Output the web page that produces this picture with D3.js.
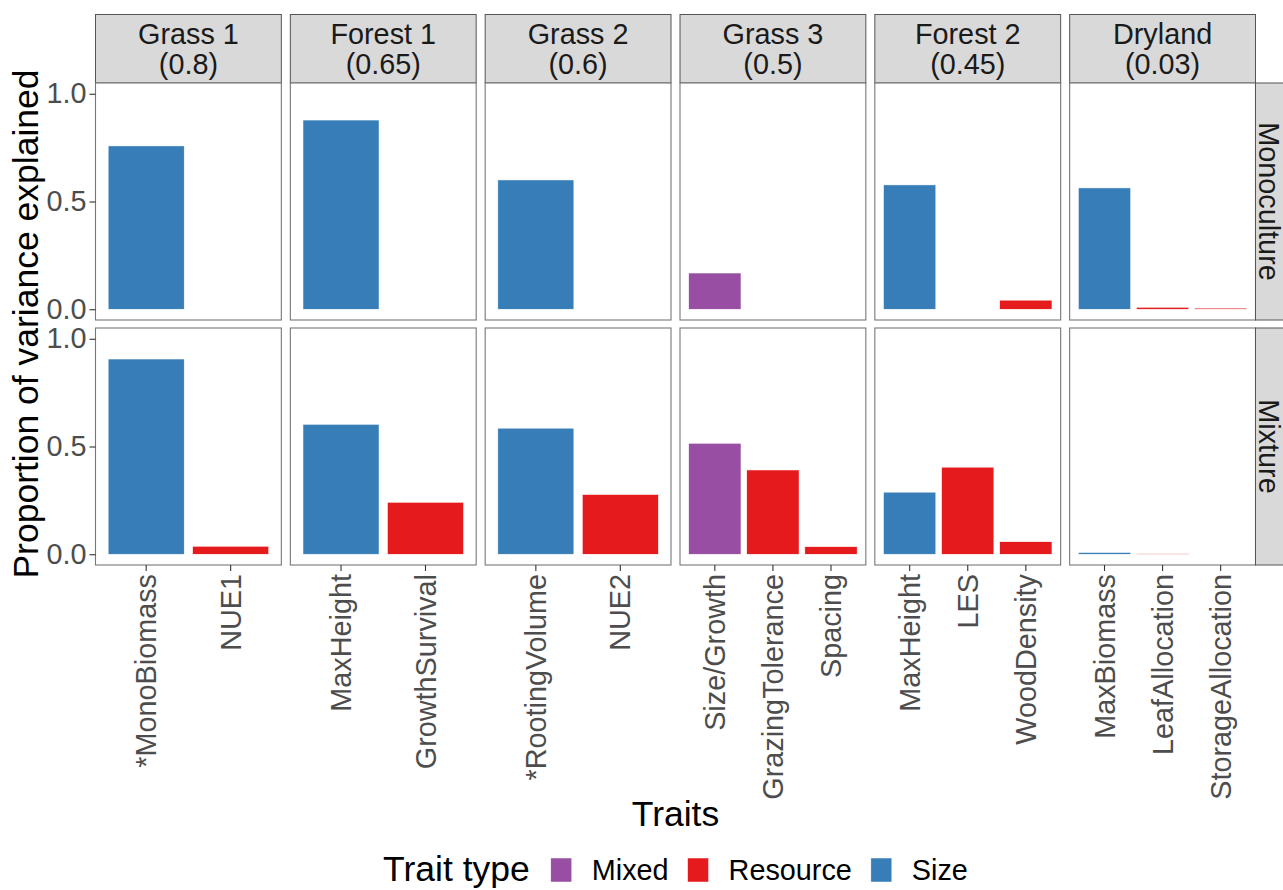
<!DOCTYPE html>
<html>
<head>
<meta charset="utf-8">
<script src="https://cdn.jsdelivr.net/npm/d3@7/dist/d3.min.js"></script>
<style>
  html, body { margin: 0; padding: 0; background: #fff; }
  svg { display: block; font-family: "Liberation Sans", Arial, sans-serif; }
</style>
</head>
<body>
<svg id="chart" width="1283" height="890"></svg>
<script>
// Facet columns: habitat and its R² shown in the strip
const habitats = ["Grass 1", "Forest 1", "Grass 2", "Grass 3", "Forest 2", "Dryland"];
const habitatScores = ["0.8", "0.65", "0.6", "0.5", "0.45", "0.03"];

// Facet rows
const communities = ["Monoculture", "Mixture"];

// Traits per habitat (x categories of each column)
const traitsByHabitat = [
  ["*MonoBiomass", "NUE1"],
  ["MaxHeight", "GrowthSurvival"],
  ["*RootingVolume", "NUE2"],
  ["Size/Growth", "GrazingTolerance", "Spacing"],
  ["MaxHeight", "LES", "WoodDensity"],
  ["MaxBiomass", "LeafAllocation", "StorageAllocation"]
];

// Trait type of each trait
const typesByHabitat = [
  ["Size", "Resource"],
  ["Size", "Resource"],
  ["Size", "Resource"],
  ["Mixed", "Resource", "Resource"],
  ["Size", "Resource", "Resource"],
  ["Size", "Resource", "Resource"]
];

// Proportion of variance explained
const monocultureValues = [
  [0.758, 0],
  [0.878, 0],
  [0.600, 0],
  [0.168, 0, 0],
  [0.577, 0, 0.042],
  [0.563, 0.009, 0.005]
];
const mixtureValues = [
  [0.906, 0.037],
  [0.603, 0.241],
  [0.585, 0.277],
  [0.515, 0.391, 0.035],
  [0.288, 0.404, 0.058],
  [0.008, 0.002, 0]
];

// Legend
const traitTypeLevels = ["Mixed", "Resource", "Size"];
const traitTypeColors = ["#984EA3", "#E41A1C", "#377EB8"];
const yTicks = [0, 0.5, 1.0];

const valuesByRow = [monocultureValues, mixtureValues];
const color = d3.scaleOrdinal().domain(traitTypeLevels).range(traitTypeColors);

const svg = d3.select("#chart");

// Layout
const plotLeft = 95.5, plotRight = 1255.5, colGap = 9;
const panelW = (plotRight - plotLeft - colGap * (habitats.length - 1)) / habitats.length;
const stripTop = 14.5, stripBottom = 83;
const rows = [{ top: 83, bottom: 320 }, { top: 328, bottom: 565 }];
const rightStripW = 34;

const tickSize = 6, tickPad = 3;
const tickFont = 28.8, titleFont = 35.5;

habitats.forEach((hab, c) => {
  const x0 = plotLeft + c * (panelW + colGap);
  const x = d3.scaleBand()
    .domain(traitsByHabitat[c])
    .range([x0, x0 + panelW])
    .paddingInner(0.1)
    .paddingOuter(0.15);

  // top strip
  const strip = svg.append("g");
  strip.append("rect")
    .attr("x", x0).attr("y", stripTop)
    .attr("width", panelW).attr("height", stripBottom - stripTop)
    .attr("fill", "#D9D9D9").attr("stroke", "#555").attr("stroke-width", 1);
  const st = strip.append("text")
    .attr("text-anchor", "middle")
    .attr("fill", "#1A1A1A")
    .attr("font-size", tickFont);
  st.append("tspan").attr("x", x0 + panelW / 2).attr("y", 43.5).text(hab);
  st.append("tspan").attr("x", x0 + panelW / 2).attr("y", 73.5).text("(" + habitatScores[c] + ")");

  rows.forEach((row, r) => {
    const y = d3.scaleLinear().domain([-0.05, 1.05]).range([row.bottom, row.top]);
    const g = svg.append("g");

    g.append("rect")
      .attr("x", x0).attr("y", row.top)
      .attr("width", panelW).attr("height", row.bottom - row.top)
      .attr("fill", "#fff");

    const data = traitsByHabitat[c].map((t, i) => ({
      trait: t, type: typesByHabitat[c][i], value: valuesByRow[r][c][i]
    }));

    g.selectAll("rect.bar").data(data).enter().append("rect")
      .attr("class", "bar")
      .attr("x", d => x(d.trait))
      .attr("width", x.bandwidth())
      .attr("y", d => y(d.value))
      .attr("height", d => y(0) - y(d.value))
      .attr("fill", d => color(d.type))
      .attr("stroke", "#fff")
      .attr("stroke-width", 0.5);

    g.append("rect")
      .attr("x", x0).attr("y", row.top)
      .attr("width", panelW).attr("height", row.bottom - row.top)
      .attr("fill", "none").attr("stroke", "#777").attr("stroke-width", 1.1);

    // y axis on the first column
    if (c === 0) {
      const ya = svg.append("g")
        .attr("transform", `translate(${x0},0)`)
        .call(d3.axisLeft(y).tickValues(yTicks).tickFormat(d3.format(".1f"))
          .tickSize(tickSize).tickPadding(tickPad));
      ya.select(".domain").remove();
      ya.selectAll("line").attr("stroke", "#333").attr("stroke-width", 1.1);
      ya.selectAll("text").attr("fill", "#4D4D4D").attr("font-size", tickFont)
        .attr("font-family", "Liberation Sans, Arial, sans-serif");
    }

    // x axis on the bottom row
    if (r === rows.length - 1) {
      const xa = svg.append("g")
        .attr("transform", `translate(0,${row.bottom})`)
        .call(d3.axisBottom(x).tickSize(tickSize).tickPadding(tickPad));
      xa.select(".domain").remove();
      xa.selectAll("line").attr("stroke", "#333").attr("stroke-width", 1.1);
      xa.selectAll("text")
        .attr("fill", "#4D4D4D").attr("font-size", tickFont)
        .attr("font-family", "Liberation Sans, Arial, sans-serif")
        .attr("transform", "rotate(-90)")
        .attr("x", -(tickSize + tickPad)).attr("y", 0)
        .attr("dy", "0.35em")
        .attr("text-anchor", "end");
    }

    // right strip on the last column
    if (c === habitats.length - 1) {
      const sx = x0 + panelW;
      svg.append("rect")
        .attr("x", sx).attr("y", row.top)
        .attr("width", rightStripW).attr("height", row.bottom - row.top)
        .attr("fill", "#D9D9D9").attr("stroke", "#555").attr("stroke-width", 1);
      const cy = (row.top + row.bottom) / 2;
      svg.append("text")
        .attr("transform", `translate(${sx + 13.5},${cy}) rotate(90)`)
        .attr("text-anchor", "middle")
        .attr("dy", "0.35em")
        .attr("fill", "#1A1A1A")
        .attr("font-size", tickFont)
        .text(communities[r]);
    }
  });
});

// Axis titles
svg.append("text")
  .attr("transform", `translate(38,${(rows[0].top + rows[1].bottom) / 2}) rotate(-90)`)
  .attr("text-anchor", "middle")
  .attr("font-size", titleFont)
  .attr("fill", "#000")
  .text("Proportion of variance explained");

svg.append("text")
  .attr("x", (plotLeft + plotRight) / 2).attr("y", 826)
  .attr("text-anchor", "middle")
  .attr("font-size", titleFont)
  .attr("fill", "#000")
  .text("Traits");

// Legend, laid out left to right and centred under the panels
const legend = svg.append("g");
const keyW = 21, keyH = 24, keyTop = 858, legendBase = 881;
const title = legend.append("text")
  .attr("y", legendBase).attr("font-size", titleFont).attr("fill", "#000")
  .text("Trait type");
let cursor = 0;
title.attr("x", cursor);
cursor += title.node().getComputedTextLength() + 21;
traitTypeLevels.forEach((lvl, i) => {
  legend.append("rect")
    .attr("x", cursor).attr("y", keyTop)
    .attr("width", keyW).attr("height", keyH)
    .attr("fill", color(lvl)).attr("stroke", "#fff").attr("stroke-width", 0.5);
  cursor += keyW + 20;
  const t = legend.append("text")
    .attr("x", cursor).attr("y", legendBase - 1)
    .attr("font-size", tickFont).attr("fill", "#000")
    .text(lvl);
  cursor += t.node().getComputedTextLength();
  if (i < traitTypeLevels.length - 1) cursor += 19;
});
legend.attr("transform", `translate(${(plotLeft + plotRight) / 2 - cursor / 2},0)`);
</script>
</body>
</html>
